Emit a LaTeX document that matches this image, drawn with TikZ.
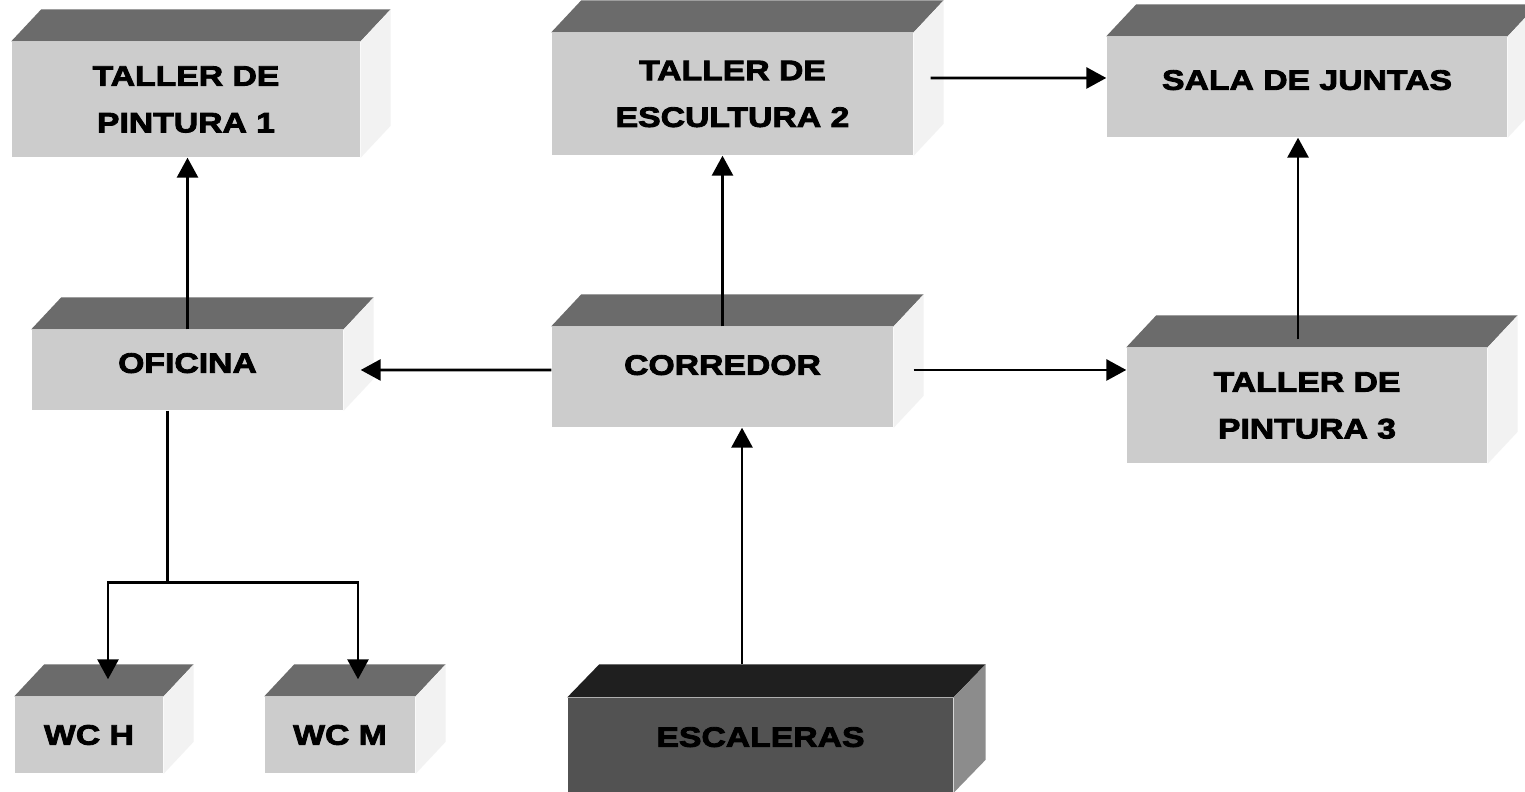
\documentclass[tikz,border=0pt]{standalone}
\usepackage{fontspec}
\newfontfamily\roomfont{Liberation Sans}[BoldFeatures={FakeStretch=1.2,FakeBold=3}]
\usetikzlibrary{arrows.meta,calc}

\begin{document}
\begin{tikzpicture}[
  room/.style={fill=black!20, inner sep=0pt, align=center, font=\roomfont\bfseries\fontsize{8pt}{13.3pt}\selectfont},
  roomtop/.style={fill=black!58},
  roomside/.style={fill=black!5},
  arrow/.style={-{Triangle[length=2mm,width=2.1mm]}, line width=0.8pt}
]
\fill[white] (0,0) rectangle (15.25,7.92);
\useasboundingbox (0,0) rectangle (15.25,7.92);

% Top row
\node[room, minimum width=3.48cm, minimum height=1.15cm] (pint1) at (1.86,6.925) {TALLER DE\\PINTURA 1};
\node[room, minimum width=3.61cm, minimum height=1.22cm] (escul2) at (7.325,6.98) {TALLER DE\\ESCULTURA 2};
\node[room, text depth=1.4mm, minimum width=4cm, minimum height=1cm] (juntas) at (13.07,7.05) {SALA DE JUNTAS};

% Middle row
\node[room, text depth=1.4mm, minimum width=3.11cm, minimum height=0.8cm] (oficina) at (1.875,4.22) {OFICINA};
\node[room, text depth=2.4mm, minimum width=3.41cm, minimum height=1cm] (corredor) at (7.225,4.15) {CORREDOR};
\node[room, minimum width=3.6cm, minimum height=1.15cm] (pint3) at (13.07,3.865) {TALLER DE\\PINTURA 3};

% Bottom row
\node[room, minimum width=1.48cm, minimum height=0.76cm] (wch) at (0.89,0.57) {WC H};
\node[room, minimum width=1.5cm, minimum height=0.76cm] (wcm) at (3.40,0.57) {WC M};
\node[room, fill=black!68, text depth=1.6mm, minimum width=3.85cm, minimum height=0.94cm] (escaleras) at (7.605,0.47) {ESCALERAS};

% Box tops and sides
\foreach \r in {pint1, escul2, juntas, oficina, corredor, pint3, wch, wcm} {
  \fill[roomtop] (\r.north west) -- ++(0.3,0.32) -- ($(\r.north east)+(0.3,0.32)$) -- (\r.north east) -- cycle;
  \fill[roomside] (\r.north east) -- ++(0.3,0.32) -- ($(\r.south east)+(0.3,0.32)$) -- (\r.south east) -- cycle;
}
\fill[black!88] (escaleras.north west) -- ++(0.32,0.33) -- ($(escaleras.north east)+(0.32,0.33)$) -- (escaleras.north east) -- cycle;
\fill[black!45] (escaleras.north east) -- ++(0.32,0.33) -- ($(escaleras.south east)+(0.32,0.33)$) -- (escaleras.south east) -- cycle;

% Arrows
\draw[arrow] (oficina.north) -- (oficina.north |- pint1.south);
\draw[arrow] (corredor.north) -- (corredor.north |- escul2.south);
\draw[arrow] ([yshift=0.7mm]corredor.center -| corredor.west) -- ([xshift=1.7mm]oficina.east);
\draw[arrow] ([xshift=2mm,yshift=0.7mm]corredor.center -| corredor.east) -- ([yshift=0.7mm]corredor.center -| pint3.west);
\draw[arrow] ([xshift=1.7mm,yshift=1.6mm]escul2.east) -- ([yshift=0.9mm]juntas.center -| juntas.west);
\draw[arrow] ([xshift=-0.9mm,yshift=0.8mm]pint3.north) -- ([xshift=-0.9mm]juntas.south);
\draw[arrow] ([xshift=-1.85mm,yshift=3.3mm]escaleras.north) -- ([xshift=-1.85mm]escaleras.north |- corredor.south);
\draw[line width=0.8pt] ([xshift=-2mm]oficina.south) -- ++(0,-1.72) coordinate (fork);
\draw[arrow] (fork) -| ([xshift=1.9mm,yshift=1.7mm]wch.north);
\draw[arrow] (fork) -| ([xshift=1.8mm,yshift=1.7mm]wcm.north);

\end{tikzpicture}
\end{document}
